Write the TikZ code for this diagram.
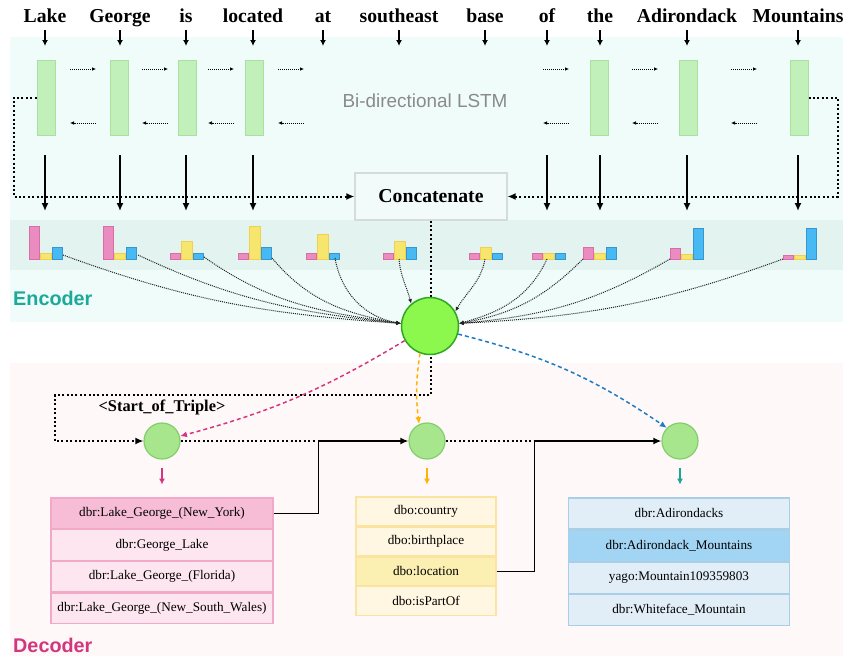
\documentclass[tikz,border=0pt]{standalone}
\usepackage{fontspec}
\setmainfont{Liberation Serif}
\newfontfamily\helv{Liberation Sans}
\usepackage{tikz}
\usetikzlibrary{arrows.meta,positioning}

\definecolor{encbg}{HTML}{F0FCFA}
\definecolor{bandbg}{HTML}{E3F3EF}
\definecolor{decbg}{HTML}{FFF8F8}
\definecolor{cellfill}{HTML}{C2F0BB}
\definecolor{cellline}{HTML}{A9E2A0}
\definecolor{catfill}{HTML}{F2FBFA}
\definecolor{catline}{HTML}{D3DCDB}
\definecolor{lstmgray}{HTML}{8A8A8A}
\definecolor{enctext}{HTML}{1BA99A}
\definecolor{dectext}{HTML}{D1367E}
\definecolor{encfill}{HTML}{8CF84E}
\definecolor{encline}{HTML}{2EA81E}
\definecolor{decfill}{HTML}{A8E68E}
\definecolor{decline}{HTML}{82CE6C}
\definecolor{magenta}{HTML}{D6367F}
\definecolor{amber}{HTML}{FFB300}
\definecolor{ocean}{HTML}{1C7CC4}
\definecolor{teal}{HTML}{1AA596}
\definecolor{pinkrow}{HTML}{FDE6EF}
\definecolor{pinkhi}{HTML}{F7BCD6}
\definecolor{pinkline}{HTML}{F2A9C8}
\definecolor{yellowrow}{HTML}{FFF7E1}
\definecolor{yellowhi}{HTML}{FCEFB2}
\definecolor{yellowline}{HTML}{FBE3A0}
\definecolor{bluerow}{HTML}{E1EEF8}
\definecolor{bluehi}{HTML}{A2D5F4}
\definecolor{blueline}{HTML}{A9CFE6}
\definecolor{barpink}{HTML}{EB8CC1}
\definecolor{barpinkline}{HTML}{D96DA8}
\definecolor{baryellow}{HTML}{F7E66E}
\definecolor{baryellowline}{HTML}{F1CF4F}
\definecolor{barblue}{HTML}{48BAF3}
\definecolor{barblueline}{HTML}{3795CF}
\definecolor{attgray}{HTML}{222222}

\begin{document}
\begin{tikzpicture}[x=1pt,y=-1pt,
  word/.style={font=\fontsize{19.7}{22}\selectfont\bfseries,anchor=base,inner sep=0pt},
  wordarr/.style={line width=1.3pt,-{Latex[length=6pt,width=6pt]}},
  cell/.style={draw=cellline,fill=cellfill,line width=1pt,minimum width=18pt,minimum height=75pt,inner sep=0pt},
  lstmarr/.style={line width=0.7pt,dash pattern=on 0.9pt off 1.1pt,-{Latex[length=4pt,width=3.5pt]}},
  cellarr/.style={line width=1.5pt,-{Latex[length=8pt,width=7pt]}},
  loopline/.style={line width=2pt,dash pattern=on 2pt off 2.4pt},
  attn/.style={attgray,line width=1pt,dash pattern=on 1pt off 1pt,-{Latex[length=4.5pt,width=4pt]}},
  pinkbar/.style={draw=barpinkline,fill=barpink,line width=1pt},
  yellowbar/.style={draw=baryellowline,fill=baryellow,line width=1pt},
  bluebar/.style={draw=barblueline,fill=barblue,line width=1pt},
  catbox/.style={draw=catline,fill=catfill,line width=1.2pt,minimum width=152pt,minimum height=47pt,
    font=\fontsize{19.7}{22}\selectfont\bfseries},
  enccirc/.style={circle,draw=encline,fill=encfill,line width=1.5pt,minimum size=57pt,inner sep=0pt},
  deccirc/.style={circle,draw=decline,fill=decfill,line width=1.2pt,minimum size=36pt,inner sep=0pt},
  pred/.style={line width=1.5pt,dash pattern=on 4pt off 3pt,-{Latex[length=7pt,width=6pt]}},
  outarr/.style={line width=1.4pt,-{Latex[length=6pt,width=6pt]}},
  link/.style={line width=1.6pt,-{Latex[length=8pt,width=7pt]}},
  row/.style={line width=1.2pt,inner sep=0pt,font=\fontsize{13.2}{15}\selectfont},
  prow/.style={row,draw=pinkline,fill=pinkrow,minimum width=222pt,minimum height=30.5pt},
  orow/.style={row,draw=yellowline,fill=yellowrow,minimum width=140pt,minimum height=28.75pt},
  brow/.style={row,draw=blueline,fill=bluerow,minimum width=221pt,minimum height=31pt},
  node distance=0pt]
  \useasboundingbox (0,0) rectangle (845,656);

  % backgrounds
  \fill[encbg] (10,37) rectangle (843,322);
  \fill[bandbg] (10,220) rectangle (843,270);
  \fill[decbg] (10,363) rectangle (843,656);

  % input words
  \foreach \x/\w [count=\i] in {45/Lake,120/George,186/is,253/located,323/at,399/southeast,
      485/base,547/of,600/the,687/Adirondack,798/Mountains}{
    \node[word] (w\i) at (\x,22) {\w};
    \draw[wordarr] (w\i.base) ++(0,8) -- ++(0,16);
  }

  % lstm cells
  \foreach \x [count=\i] in {46,119.5,187.5,254.5,599,688,799}
    \node[cell] (c\i) at (\x,97.5) {};
  \foreach \x in {70,142,208,278,543,632,731}{
    \draw[lstmarr] (\x,69) -- ++(26,0);
    \draw[lstmarr] (\x+26,123) -- ++(-26,0);
  }
  \node[font=\helv\fontsize{18.9}{21}\selectfont,text=lstmgray] (lstm) at (425,101) {Bi-directional LSTM};

  % concatenate
  \node[catbox] (cat) at (431,196.5) {Concatenate};
  \draw[loopline,-{Latex[length=8pt,width=7pt]}] (c1.west) -- ++(-23,0) |- (cat.west);
  \draw[loopline,-{Latex[length=8pt,width=7pt]}] (c7.east) -- ++(29,0) |- (cat.east);
  \foreach \i in {1,2,3,4,8,9,10,11}
    \draw[cellarr] (w\i.base) ++(0,133) -- ++(0,56);

  % attention bars
  \foreach \x/\a/\b/\c/\dx/\dy [count=\i] in {29/33/6/12/34/4,103/33/6/12/35/4,170/6/18/6/34/2,
      238/6/33/12/34/1,306/6/25/6/29/1,383/6/18/12/16/0,469/6/12/6/16/0,532/6/6/6/15/0,
      583/12/6/12/0/0,670/11/5/31/0/0,783/4/4/31/0/0}{
    \draw[pinkbar] (\x,259) rectangle ++(10.5,-\a);
    \draw[yellowbar] (\x+11.5,259) rectangle ++(10.5,-\b);
    \draw[bluebar] (\x+23,259) rectangle ++(10.5,-\c);
    \coordinate (att\i) at (\x+\dx,259-\dy);
  }
  \node[font=\helv\fontsize{19.8}{22}\selectfont\bfseries,text=enctext,anchor=west,inner sep=0pt]
    (enclabel) at (13,298) {Encoder};

  % decoder steps
  \node[deccirc] (d1) at (162,441) {};
  \node[deccirc] (d2) at (427,441) {};
  \node[deccirc] (d3) at (680,441) {};
  \node[font=\fontsize{16.4}{18}\selectfont\bfseries] (sot) at (162,407) {<Start\_of\_Triple>};
  \draw[loopline,-{Latex[length=8pt,width=7pt]}] (cat.south) |- (55,395) |- (d1.west);
  \draw[loopline] (d1.east) -- ++(136,0);
  \draw[loopline] (d2.east) -- ++(88,0);

  % encoder state
  \node[enccirc] (enc) at (430,326) {};
  \foreach \i/\o/\n/\t in {1/-20/176/175,2/-25/174/175,3/-35/172/175,4/-50/170/175,5/-80/170/175,
      6/-85/105/130,7/-100/60/30,8/-115/15/5,9/-135/10/5,10/-150/5/5,11/-160/3/5}
    \draw[attn] (att\i) to[out=\o,in=\n] (enc.\t);

  % predictions
  \draw[pred,magenta] (enc.210) to[bend left=8] (d1.15);
  \draw[pred,amber] (enc.250) to[bend right=8] (d2.115);
  \draw[pred,ocean] (enc.344) to[bend left=10] (d3.135);
  \draw[outarr,magenta] (d1.south) ++(0,8) -- ++(0,17);
  \draw[outarr,amber] (d2.south) ++(0,8) -- ++(0,17);
  \draw[outarr,teal] (d3.south) ++(0,8) -- ++(0,17);

  % candidate lists
  \node[prow,fill=pinkhi] (p1) at (162,513.3) {dbr:Lake\_George\_(New\_York)};
  \node[prow,below=of p1] (p2) {dbr:George\_Lake};
  \node[prow,below=of p2] (p3) {dbr:Lake\_George\_(Florida)};
  \node[prow,below=of p3] (p4) {dbr:Lake\_George\_(New\_South\_Wales)};

  \node[orow] (o1) at (426,511.4) {dbo:country};
  \node[orow,below=of o1] (o2) {dbo:birthplace};
  \node[orow,below=of o2,fill=yellowhi] (o3) {dbo:location};
  \node[orow,below=of o3] (o4) {dbo:isPartOf};

  \node[brow] (b1) at (679,513.5) {dbr:Adirondacks};
  \node[brow,below=of b1,fill=bluehi] (b2) {dbr:Adirondack\_Mountains};
  \node[brow,below=of b2] (b3) {yago:Mountain109359803};
  \node[brow,below=of b3] (b4) {dbr:Whiteface\_Mountain};

  \draw[link] (p1.east) -- ++(45,0) |- (d2.west);
  \draw[link] (o3.east) -- ++(38,0) |- (d3.west);

  \node[font=\helv\fontsize{19.8}{22}\selectfont\bfseries,text=dectext,anchor=west,inner sep=0pt]
    (declabel) at (13,645) {Decoder};
\end{tikzpicture}
\end{document}
